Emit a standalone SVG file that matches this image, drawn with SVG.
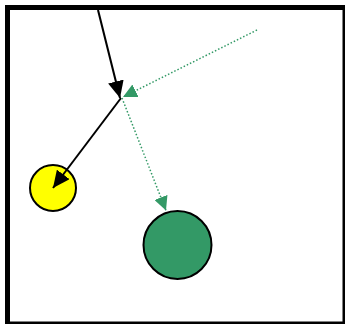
<svg xmlns="http://www.w3.org/2000/svg" width="345" height="324" viewBox="0 0 345 324">
<style>
.frame{fill:#ffffff;stroke:#000000;stroke-width:5}
.node{stroke:#000000;stroke-width:2}
.solid{stroke:#000000;stroke-width:2;fill:none}
.dotted{stroke:#339966;stroke-width:1.5;stroke-dasharray:1.5 2;fill:none}
</style>
<defs>
<marker id="ab" markerUnits="userSpaceOnUse" markerWidth="17" markerHeight="16" refX="16" refY="7.5" orient="auto" viewBox="0 0 16 15">
<path d="M0,0 L16,7.5 L0,15 Z" fill="#000000"/>
</marker>
<marker id="ag" markerUnits="userSpaceOnUse" markerWidth="14" markerHeight="14" refX="13" refY="6.5" orient="auto" viewBox="0 0 13 13">
<path d="M0,0 L13,6.5 L0,13 Z" fill="#339966"/>
</marker>
</defs>
<rect class="frame" x="7.5" y="7.5" width="337.5" height="316.5"/>
<g id="nodeYellow"><circle class="node" cx="53" cy="188" r="23" fill="#ffff00"/></g>
<g id="nodeGreen"><circle class="node" cx="177.5" cy="245" r="34" fill="#339966"/></g>
<g id="connectors">
<line class="solid" x1="98" y1="10" x2="120" y2="98" marker-end="url(#ab)"/>
<line class="solid" x1="121" y1="98" x2="53" y2="188" marker-end="url(#ab)"/>
<line class="dotted" x1="257" y1="30" x2="123" y2="97" marker-end="url(#ag)"/>
<line class="dotted" x1="122" y1="98" x2="166" y2="210.5" marker-end="url(#ag)"/>
</g>
</svg>
